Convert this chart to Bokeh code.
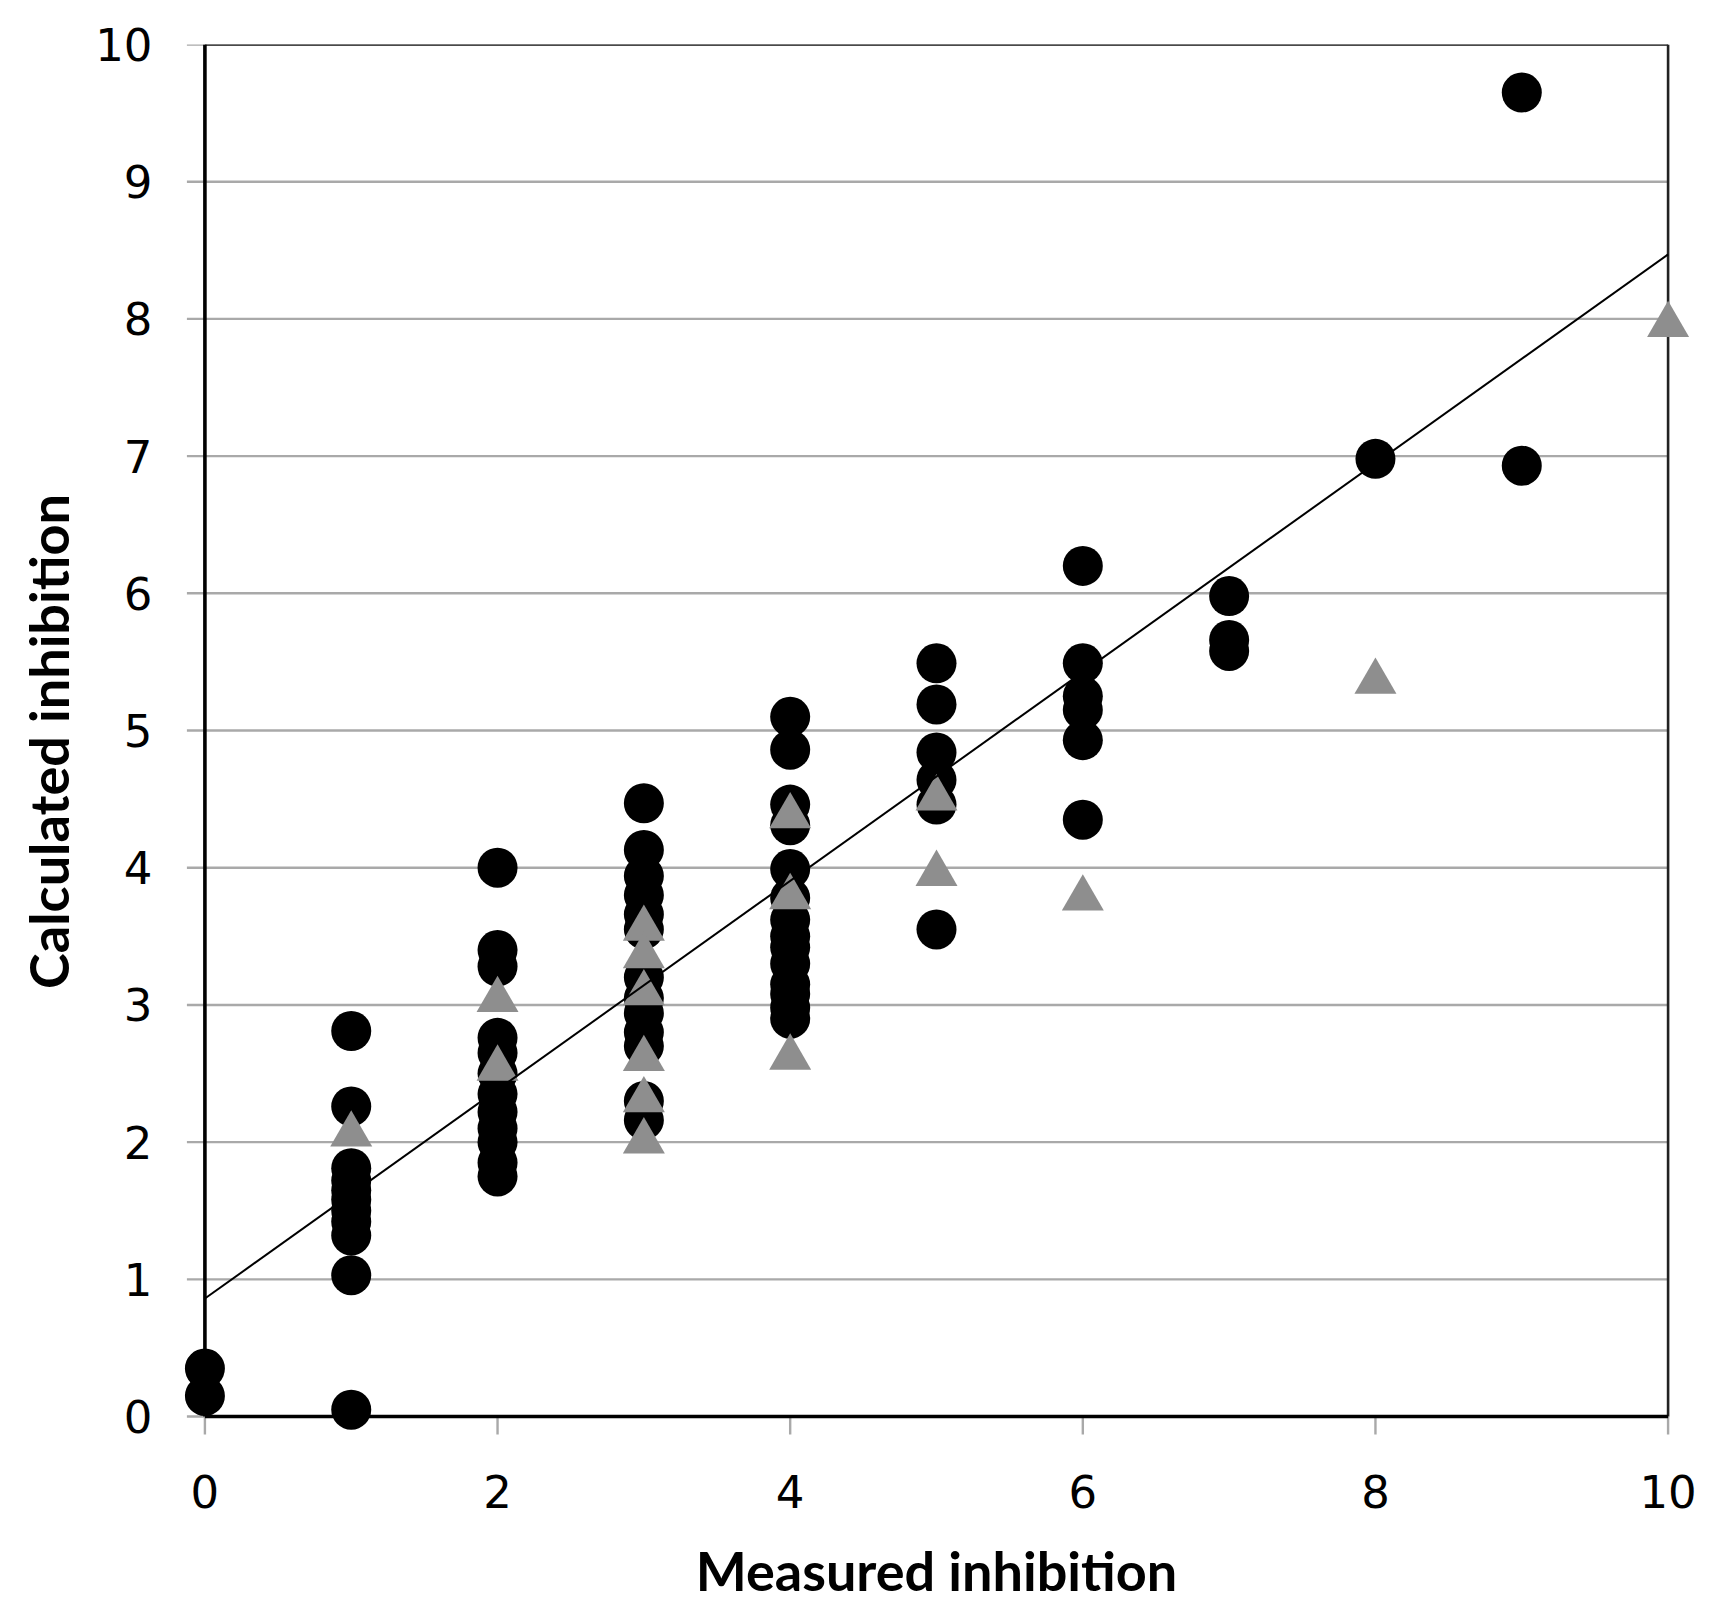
from bokeh.plotting import figure
from bokeh.models import Range1d, FixedTicker, ColumnDataSource
from bokeh.transform import dodge
from bokeh.embed import file_html
from bokeh.resources import INLINE

# ---- data ----
# black circles: measured inhibition -> calculated inhibition
circle_measured = (
    [0] * 2 + [1] * 11 + [2] * 12 + [3] * 13 + [4] * 14 + [5] * 6 + [6] * 6 + [7] * 3 + [8] * 1 + [9] * 2
)
circle_calculated = (
    [0.35, 0.15]
    + [2.81, 2.26, 1.81, 1.72, 1.65, 1.58, 1.50, 1.42, 1.32, 1.03, 0.05]
    + [4.00, 3.40, 3.28, 2.76, 2.65, 2.50, 2.35, 2.22, 2.10, 2.00, 1.85, 1.75]
    + [4.47, 4.13, 3.94, 3.80, 3.66, 3.55, 3.20, 3.05, 2.94, 2.80, 2.70, 2.30, 2.16]
    + [5.10, 4.86, 4.46, 4.31, 3.99, 3.78, 3.62, 3.50, 3.42, 3.30, 3.15, 3.08, 2.98, 2.90]
    + [5.49, 5.19, 4.84, 4.64, 4.46, 3.55]
    + [6.20, 5.49, 5.25, 5.15, 4.93, 4.35]
    + [5.98, 5.66, 5.58]
    + [6.98]
    + [9.65, 6.93]
)

# grey triangles
tri_measured = [1] + [2] * 2 + [3] * 6 + [4] * 3 + [5] * 2 + [6] + [8] + [10]
tri_calculated = (
    [2.10]
    + [3.08, 2.58]
    + [3.60, 3.40, 3.13, 2.65, 2.35, 2.05]
    + [4.42, 3.83, 2.66]
    + [4.55, 4.00]
    + [3.82]
    + [5.40]
    + [8.00]
)

# linear trend line
trend_intercept = 0.86
trend_slope = 0.761

x_ticks = [0, 2, 4, 6, 8, 10]
y_ticks = [0, 1, 2, 3, 4, 5, 6, 7, 8, 9, 10]
x_title = "Measured inhibition"
y_title = "Calculated inhibition"

# ---- figure ----
x_min, x_max = x_ticks[0], x_ticks[-1]
y_min, y_max = y_ticks[0], y_ticks[-1]
pad = 0.16

p = figure(
    width=1699, height=1612,
    x_range=Range1d(x_min - pad, x_max + pad),
    y_range=Range1d(y_min - pad, y_max),
    output_backend="svg", toolbar_location=None,
    min_border_left=181, min_border_right=8,
    min_border_top=44, min_border_bottom=174,
)
p.outline_line_color = None
p.background_fill_color = "white"
p.border_fill_color = "white"
p.grid.visible = False

for ax in (p.xaxis, p.yaxis):
    ax.axis_line_color = None
    ax.major_tick_line_color = None
    ax.minor_tick_line_color = None
    ax.major_label_text_font = "DejaVu Sans"
    ax.major_label_text_font_size = "45px"
    ax.major_label_text_color = "black"
    ax.axis_label_text_font = "Lato"
    ax.axis_label_text_font_style = "bold"
    ax.axis_label_text_font_size = "54px"
    ax.axis_label_text_color = "black"

p.xaxis.ticker = FixedTicker(ticks=x_ticks)
p.yaxis.ticker = FixedTicker(ticks=y_ticks)
p.xaxis.major_label_standoff = 30
p.yaxis.major_label_standoff = 23
p.xaxis.axis_label = x_title
p.yaxis.axis_label = y_title
p.xaxis.axis_label_standoff = 27
p.yaxis.axis_label_standoff = 11

# tick lengths in data units (18 px)
tick_dx = 18 / 146.3
tick_dy = 18 / 137.1

grid_col = "#a9a9a9"
# horizontal grid lines, extending left as tick marks
p.segment(x0=[x_min - tick_dx] * len(y_ticks), y0=y_ticks,
          x1=[x_max] * len(y_ticks), y1=y_ticks,
          line_color=grid_col, line_width=2.4)
# x tick marks
p.segment(x0=x_ticks, y0=[y_min] * len(x_ticks),
          x1=x_ticks, y1=[y_min - tick_dy] * len(x_ticks),
          line_color=grid_col, line_width=2.4)
# plot-area border (top & right)
p.segment(x0=[x_min, x_max], y0=[y_max, y_min], x1=[x_max, x_max], y1=[y_max, y_max],
          line_color="#222222", line_width=2.6)
# axes (left & bottom)
p.segment(x0=[x_min, x_min], y0=[y_min, y_min], x1=[x_min, x_max], y1=[y_max, y_min],
          line_color="black", line_width=3.6)

p.scatter(circle_measured, circle_calculated, marker="circle", size=40,
          fill_color="black", line_color=None)

tri_src = ColumnDataSource(dict(x=tri_measured, y=tri_calculated))
p.scatter(x="x", y=dodge("y", -0.044, range=p.y_range), source=tri_src,
          marker="triangle", size=42, fill_color="#8e8e8e", line_color=None)

p.line([x_min, x_max],
       [trend_intercept + trend_slope * x_min, trend_intercept + trend_slope * x_max],
       line_color="black", line_width=2)

open("out.html", "w").write(file_html(p, INLINE))
